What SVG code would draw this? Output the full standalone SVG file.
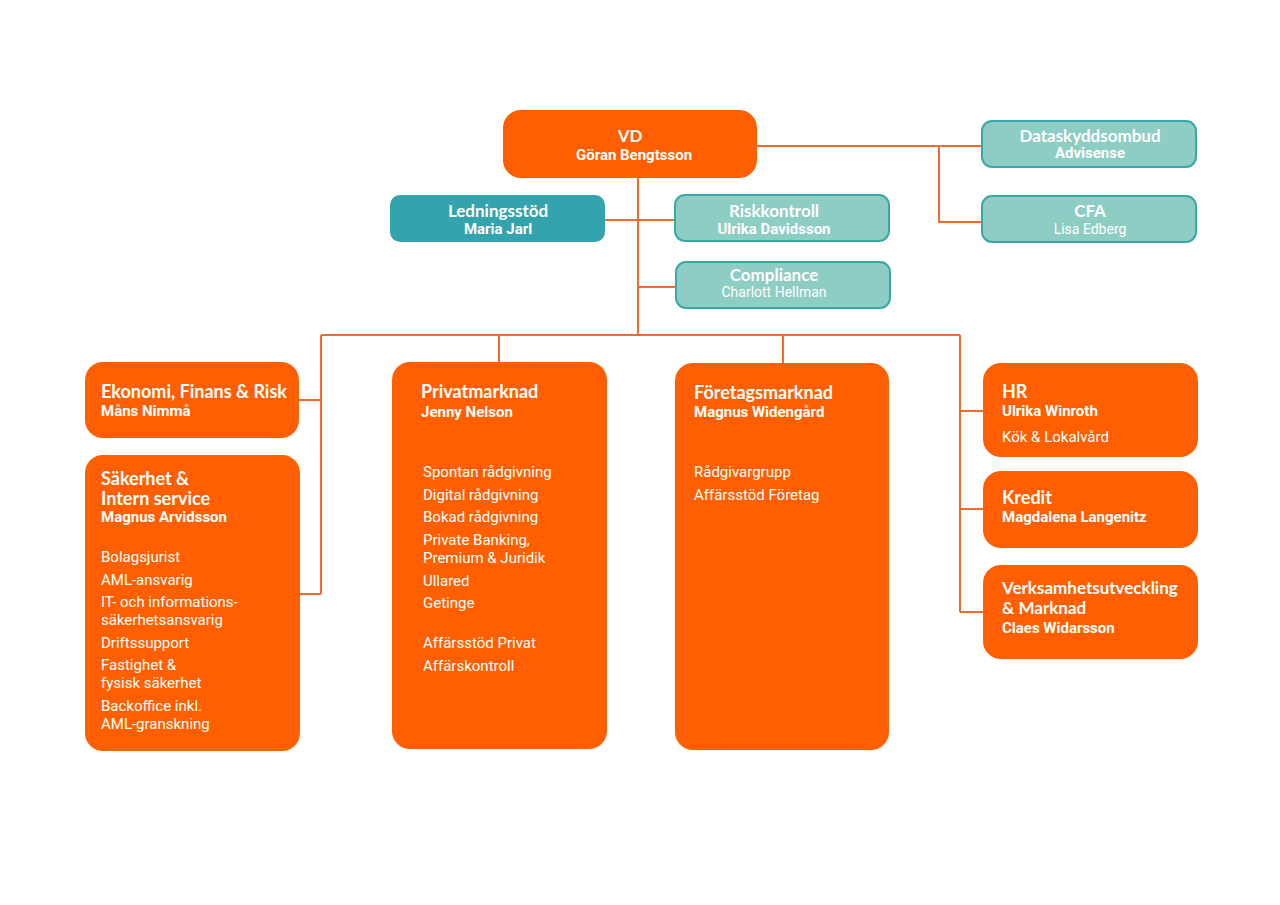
<svg xmlns="http://www.w3.org/2000/svg" width="1280" height="905" viewBox="0 0 1280 905">
<style>
.o{fill:#FF5F00}
.d{fill:#33A3AE}
.l{fill:#8DCDC3;stroke:#3AA8A6;stroke-width:2}
.h{font-family:"Lato","Roboto",sans-serif;font-weight:700;font-size:17px;fill:#fff}
.H{font-family:"Lato","Roboto",sans-serif;font-weight:700;font-size:18px;fill:#fff}
.n{font-family:"Roboto","Liberation Sans",sans-serif;font-weight:700;font-size:15px;fill:#fff}
.i{font-family:"Roboto","Liberation Sans",sans-serif;font-weight:400;font-size:15px;fill:#fff}
.t{font-family:"Roboto","Liberation Sans",sans-serif;font-weight:400;font-size:14px;fill:#fff}
.c{text-anchor:middle}
.w{fill:none;stroke:#F36B2C;stroke-width:2}
</style>
<rect width="1280" height="905" fill="#fff"/>
<g id="connectors" class="w">
<path d="M638 178V335"/>
<path d="M605 220H675"/>
<path d="M638 287H676"/>
<path d="M757 146H982"/>
<path d="M939 146V222H982"/>
<path d="M321 335H960"/>
<path d="M499 335V362"/>
<path d="M783 335V363"/>
<path d="M321 335V594"/>
<path d="M299 400H321"/>
<path d="M300 594H321"/>
<path d="M960 335V612"/>
<path d="M960 411H983"/>
<path d="M960 509H983"/>
<path d="M960 612H983"/>
</g>
<g id="vd"><rect class="o" x="503" y="110" width="254" height="68" rx="18"/>
<text class="h c" x="630" y="142">VD</text><text class="n c" x="634" y="160">Göran Bengtsson</text></g>
<g id="ledningsstod"><rect class="d" x="390" y="195" width="215" height="47" rx="10"/>
<text class="h c" x="498" y="217">Ledningsstöd</text><text class="n c" x="498" y="234">Maria Jarl</text></g>
<g id="riskkontroll"><rect class="l" x="675" y="195" width="214" height="46" rx="10"/>
<text class="h c" x="774" y="217">Riskkontroll</text><text class="n c" x="774" y="234">Ulrika Davidsson</text></g>
<g id="compliance"><rect class="l" x="676" y="262" width="214" height="46" rx="10"/>
<text class="h c" x="774" y="281">Compliance</text><text class="t c" x="774" y="297">Charlott Hellman</text></g>
<g id="dataskyddsombud"><rect class="l" x="982" y="121" width="214" height="46" rx="10"/>
<text class="h c" x="1090" y="142">Dataskyddsombud</text><text class="n c" x="1090" y="158">Advisense</text></g>
<g id="cfa"><rect class="l" x="982" y="196" width="214" height="46" rx="10"/>
<text class="h c" x="1090" y="217">CFA</text><text class="t c" x="1090" y="234">Lisa Edberg</text></g>
<g id="ekonomi"><rect class="o" x="85" y="362" width="214" height="76" rx="18"/>
<text class="H" x="101" y="398">Ekonomi, Finans &amp; Risk</text><text class="n" x="101" y="416">Måns Nimmå</text></g>
<g id="sakerhet"><rect class="o" x="85" y="455" width="215" height="296" rx="18"/>
<text class="H" x="101" y="485" font-size="17.5">Säkerhet &amp;</text><text class="H" x="101" y="505" font-size="17.5">Intern service</text>
<text class="n" x="101" y="522">Magnus Arvidsson</text>
<text class="i" x="101" y="562">Bolagsjurist</text>
<text class="i" x="101" y="585">AML-ansvarig</text>
<text class="i" x="101" y="607">IT- och informations-</text>
<text class="i" x="101" y="625">säkerhetsansvarig</text>
<text class="i" x="101" y="648">Driftssupport</text>
<text class="i" x="101" y="670">Fastighet &amp;</text>
<text class="i" x="101" y="688">fysisk säkerhet</text>
<text class="i" x="101" y="711">Backoffice inkl.</text>
<text class="i" x="101" y="729">AML-granskning</text></g>
<g id="privatmarknad"><rect class="o" x="392" y="362" width="215" height="387" rx="18"/>
<text class="H" x="421" y="398">Privatmarknad</text><text class="n" x="421" y="417">Jenny Nelson</text>
<text class="i" x="423" y="477">Spontan rådgivning</text>
<text class="i" x="423" y="500">Digital rådgivning</text>
<text class="i" x="423" y="522">Bokad rådgivning</text>
<text class="i" x="423" y="545">Private Banking,</text>
<text class="i" x="423" y="563">Premium &amp; Juridik</text>
<text class="i" x="423" y="586">Ullared</text>
<text class="i" x="423" y="608">Getinge</text>
<text class="i" x="423" y="648">Affärsstöd Privat</text>
<text class="i" x="423" y="671">Affärskontroll</text></g>
<g id="foretagsmarknad"><rect class="o" x="675" y="363" width="214" height="387" rx="18"/>
<text class="H" x="694" y="399">Företagsmarknad</text><text class="n" x="694" y="417">Magnus Widengård</text>
<text class="i" x="694" y="477">Rådgivargrupp</text>
<text class="i" x="694" y="500">Affärsstöd Företag</text></g>
<g id="hr"><rect class="o" x="983" y="363" width="215" height="94" rx="18"/>
<text class="H" x="1002" y="398">HR</text><text class="n" x="1002" y="416">Ulrika Winroth</text>
<text class="i" x="1002" y="442">Kök &amp; Lokalvård</text></g>
<g id="kredit"><rect class="o" x="983" y="471" width="215" height="77" rx="18"/>
<text class="H" x="1002" y="504">Kredit</text><text class="n" x="1002" y="522">Magdalena Langenitz</text></g>
<g id="verksamhet"><rect class="o" x="983" y="565" width="215" height="94" rx="18"/>
<text class="h" x="1002" y="594">Verksamhetsutveckling</text><text class="h" x="1002" y="614">&amp; Marknad</text>
<text class="n" x="1002" y="633">Claes Widarsson</text></g>
</svg>
